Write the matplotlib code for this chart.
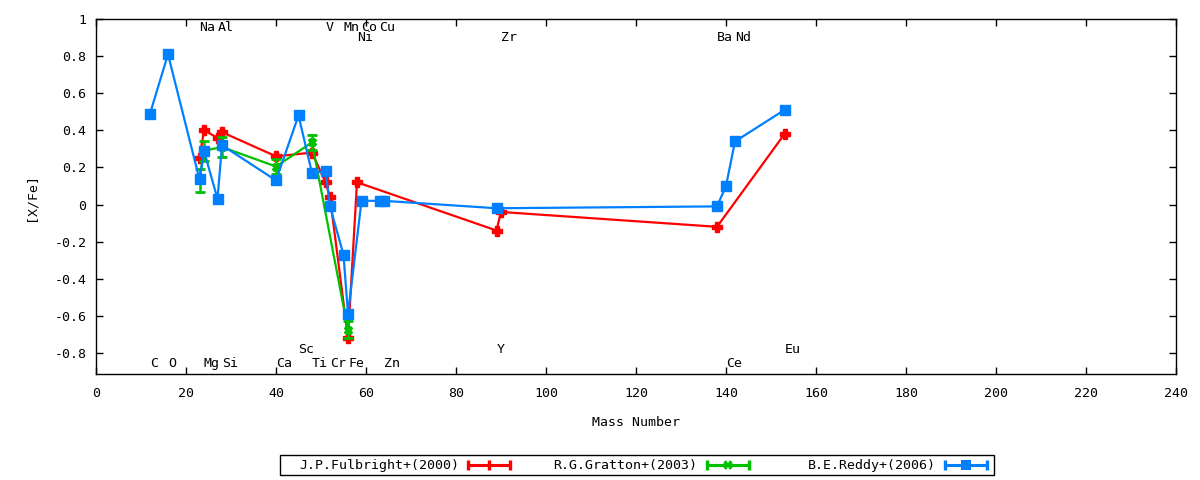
import matplotlib
matplotlib.use('Agg')
import matplotlib.pyplot as plt
from matplotlib.lines import Line2D
from matplotlib.patches import Rectangle

plt.rcParams['font.family'] = ['DejaVu Sans Mono', 'DejaVu Sans']
plt.rcParams['font.size'] = 9.5

# ---------------- data ----------------
fulbright_mass = [23, 24, 27, 28, 40, 48, 51, 52, 56, 58, 89, 90, 138, 153]
fulbright_val = [0.25, 0.40, 0.36, 0.39, 0.26, 0.28, 0.12, 0.04, -0.72, 0.12,
                 -0.14, -0.04, -0.12, 0.38]

gratton_mass = [23, 24, 28, 40, 48, 56]
gratton_val = [0.13, 0.29, 0.31, 0.205, 0.335, -0.675]
gratton_err = [0.06, 0.055, 0.055, 0.042, 0.04, 0.045]

reddy_mass = [12, 16, 23, 24, 27, 28, 40, 45, 48, 51, 52, 55, 56, 59, 63, 64,
              89, 138, 140, 142, 153]
reddy_val = [0.49, 0.81, 0.135, 0.29, 0.03, 0.32, 0.13, 0.48, 0.17, 0.18, -0.01,
             -0.27, -0.59, 0.02, 0.02, 0.02, -0.02, -0.01, 0.10, 0.34, 0.51]

series_labels = ['J.P.Fulbright+(2000)', 'R.G.Gratton+(2003)', 'B.E.Reddy+(2006)']

# element labels (text, mass number)
elem_top1 = ['Na', 'Al', 'V', 'Mn', 'Co', 'Cu']
elem_top1_x = [23, 27, 51, 55, 59, 63]
elem_top2 = ['Ni', 'Zr', 'Ba', 'Nd']
elem_top2_x = [58, 90, 138, 142]
elem_bot1 = ['Sc', 'Y', 'Eu']
elem_bot1_x = [45, 89, 153]
elem_bot2 = ['C', 'O', 'Mg', 'Si', 'Ca', 'Ti', 'Cr', 'Fe', 'Zn', 'Ce']
elem_bot2_x = [12, 16, 24, 28, 40, 48, 52, 56, 64, 140]

x_ticks = list(range(0, 241, 20))
y_ticks = [-0.8, -0.6, -0.4, -0.2, 0, 0.2, 0.4, 0.6, 0.8, 1]
y_ticklabels = ['-0.8', '-0.6', '-0.4', '-0.2', '0', '0.2', '0.4', '0.6',
                '0.8', '1']

RED = '#ff0000'
GREEN = '#00c000'
BLUE = '#0080ff'
colors = [RED, GREEN, BLUE]
legend_markers = [('|', 7), ('X', 6.5), ('s', 7)]

# ---------------- figure ----------------
W, H = 1200, 480
fig = plt.figure(figsize=(W / 100, H / 100), dpi=100)
ax = fig.add_axes([0.08, 0.2202, 0.9, 0.7402])

ax.plot(fulbright_mass, fulbright_val, color=RED, lw=1.6, marker='P',
        ms=7.2, zorder=3)
ax.errorbar(gratton_mass, gratton_val, yerr=gratton_err, color=GREEN, lw=1.6,
            marker='X', ms=6, capsize=3.5, capthick=2, elinewidth=1.8, zorder=4)
ax.plot(reddy_mass, reddy_val, color=BLUE, lw=1.6, marker='s', ms=7.8,
        zorder=5)

for txt, xv in zip(elem_top1, elem_top1_x):
    ax.text(xv, 0.936, txt, ha='left', va='baseline')
for txt, xv in zip(elem_top2, elem_top2_x):
    ax.text(xv, 0.882, txt, ha='left', va='baseline')
for txt, xv in zip(elem_bot1, elem_bot1_x):
    ax.text(xv, -0.798, txt, ha='left', va='baseline')
for txt, xv in zip(elem_bot2, elem_bot2_x):
    ax.text(xv, -0.873, txt, ha='left', va='baseline')

ax.set_xlim(0, 240)
ax.set_ylim(-0.915, 1.0)
ax.set_xticks(x_ticks)
ax.set_yticks(y_ticks)
ax.set_yticklabels(y_ticklabels)
ax.tick_params(direction='in', top=True, right=True, length=5, width=1,
               labelsize=9.5)
ax.tick_params(axis='x', pad=9)
ax.tick_params(axis='y', pad=7)
for s in ax.spines.values():
    s.set_linewidth(1)

ax.set_xlabel('Mass Number', labelpad=12)
ax.set_ylabel('[X/Fe]', labelpad=12)

# ---------------- key (gnuplot style, text right-justified) ----------------
def fx(px):
    return px / W


def fy(py):
    return 1 - py / H


fig.add_artist(Rectangle((fx(279.5), fy(475)), fx(994) - fx(279.5),
                         fy(455) - fy(475), transform=fig.transFigure,
                         fill=False, edgecolor='black', lw=1))
ky = 465
for i, (lab, c, (mk, ms)) in enumerate(zip(series_labels, colors,
                                           legend_markers)):
    tr = 459 + i * 238.5
    fig.text(fx(tr), fy(ky), lab, ha='right', va='center')
    x0, x1 = tr + 8, tr + 52
    fig.add_artist(Line2D([fx(x0), fx(x1)], [fy(ky), fy(ky)], color=c, lw=2.2,
                          solid_capstyle='butt', transform=fig.transFigure))
    fig.add_artist(Line2D([fx(x0 + 1), fx(x1 - 1)], [fy(ky), fy(ky)],
                          ls='none', marker='|', ms=7, mew=2.4, color=c,
                          transform=fig.transFigure))
    fig.add_artist(Line2D([fx((x0 + x1) / 2)], [fy(ky)], ls='none', marker=mk,
                          ms=ms, mew=(2.4 if mk == '|' else 0), color=c,
                          transform=fig.transFigure))

fig.savefig('out.png', dpi=100)
